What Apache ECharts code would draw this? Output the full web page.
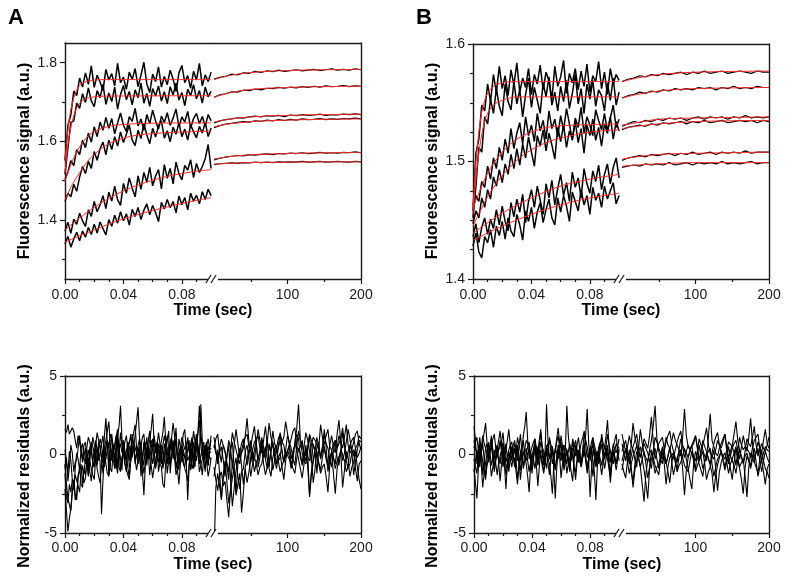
<!DOCTYPE html>
<html><head><meta charset="utf-8">
<script src="https://cdn.jsdelivr.net/npm/echarts@6/dist/echarts.min.js"></script>
<style>html,body{margin:0;padding:0;background:#fff}#c{width:800px;height:584px}</style>
</head><body><div id="c"></div>
<script>
// ---- time bases ----
const tFast = [0,0.002,0.004,0.006,0.008,0.01,0.012,0.014,0.016,0.018,0.02,0.022,0.024,0.026,0.028,0.03,0.032,0.034,0.036,0.038,0.04,0.042,0.044,0.046,0.048,0.05,0.052,0.054,0.056,0.058,0.06,0.062,0.064,0.066,0.068,0.07,0.072,0.074,0.076,0.078,0.08,0.082,0.084,0.086,0.088,0.09,0.092,0.094,0.096,0.098,0.1];
const tSlow = [0,8,16,24,32,40,48,56,64,72,80,88,96,104,112,120,128,136,144,152,160,168,176,184,192,200];
const tResFast = [0,0.001,0.002,0.003,0.004,0.005,0.006,0.007,0.008,0.009,0.01,0.011,0.012,0.013,0.014,0.015,0.016,0.017,0.018,0.019,0.02,0.021,0.022,0.023,0.024,0.025,0.026,0.027,0.028,0.029,0.03,0.031,0.032,0.033,0.034,0.035,0.036,0.037,0.038,0.039,0.04,0.041,0.042,0.043,0.044,0.045,0.046,0.047,0.048,0.049,0.05,0.051,0.052,0.053,0.054,0.055,0.056,0.057,0.058,0.059,0.06,0.061,0.062,0.063,0.064,0.065,0.066,0.067,0.068,0.069,0.07,0.071,0.072,0.073,0.074,0.075,0.076,0.077,0.078,0.079,0.08,0.081,0.082,0.083,0.084,0.085,0.086,0.087,0.088,0.089,0.09,0.091,0.092,0.093,0.094,0.095,0.096,0.097,0.098,0.099,0.1];
const tResSlow = [0,2.5,5,7.5,10,12.5,15,17.5,20,22.5,25,27.5,30,32.5,35,37.5,40,42.5,45,47.5,50,52.5,55,57.5,60,62.5,65,67.5,70,72.5,75,77.5,80,82.5,85,87.5,90,92.5,95,97.5,100,102.5,105,107.5,110,112.5,115,117.5,120,122.5,125,127.5,130,132.5,135,137.5,140,142.5,145,147.5,150,152.5,155,157.5,160,162.5,165,167.5,170,172.5,175,177.5,180,182.5,185,187.5,190,192.5,195,197.5,200];

// ---- Panel A, fast traces ----
const A1f = [1.552,1.641,1.667,1.728,1.716,1.761,1.738,1.774,1.745,1.792,1.737,1.768,1.751,1.729,1.783,1.756,1.772,1.741,1.798,1.749,1.763,1.732,1.776,1.757,1.785,1.739,1.768,1.801,1.746,1.724,1.771,1.752,1.789,1.738,1.765,1.744,1.781,1.758,1.727,1.774,1.793,1.749,1.767,1.735,1.778,1.756,1.798,1.741,1.769,1.752,1.776];
const A2f = [1.517,1.583,1.648,1.652,1.697,1.684,1.721,1.699,1.736,1.703,1.688,1.729,1.711,1.745,1.694,1.723,1.701,1.738,1.682,1.719,1.742,1.706,1.727,1.693,1.731,1.711,1.748,1.697,1.722,1.689,1.734,1.715,1.741,1.702,1.726,1.696,1.739,1.718,1.748,1.705,1.724,1.691,1.733,1.716,1.744,1.708,1.729,1.697,1.738,1.713,1.727];
const A3f = [1.503,1.522,1.551,1.538,1.579,1.566,1.603,1.584,1.621,1.598,1.637,1.612,1.649,1.628,1.661,1.633,1.658,1.619,1.647,1.672,1.641,1.625,1.663,1.651,1.684,1.639,1.657,1.628,1.668,1.645,1.679,1.652,1.631,1.664,1.648,1.673,1.641,1.659,1.682,1.637,1.662,1.649,1.676,1.634,1.658,1.671,1.645,1.663,1.639,1.668,1.652];
const A4f = [1.447,1.468,1.459,1.491,1.473,1.509,1.536,1.518,1.549,1.531,1.574,1.552,1.581,1.598,1.566,1.603,1.579,1.612,1.588,1.624,1.597,1.618,1.641,1.603,1.589,1.628,1.607,1.645,1.616,1.594,1.633,1.611,1.639,1.652,1.608,1.627,1.599,1.636,1.618,1.647,1.612,1.631,1.603,1.642,1.624,1.609,1.638,1.621,1.648,1.612,1.634];
const A5f = [1.372,1.394,1.366,1.402,1.389,1.417,1.398,1.384,1.426,1.409,1.447,1.421,1.438,1.462,1.429,1.471,1.448,1.486,1.452,1.437,1.493,1.468,1.507,1.481,1.459,1.512,1.478,1.521,1.496,1.534,1.487,1.512,1.528,1.479,1.541,1.506,1.531,1.492,1.547,1.518,1.502,1.539,1.527,1.553,1.508,1.544,1.521,1.536,1.556,1.592,1.531];
const A6f = [1.339,1.358,1.331,1.352,1.369,1.347,1.372,1.356,1.381,1.363,1.389,1.367,1.395,1.378,1.362,1.401,1.384,1.412,1.392,1.421,1.398,1.416,1.387,1.427,1.409,1.432,1.401,1.425,1.441,1.413,1.437,1.419,1.396,1.445,1.428,1.452,1.431,1.447,1.418,1.461,1.439,1.457,1.426,1.468,1.448,1.463,1.441,1.472,1.452,1.478,1.462];
// ---- Panel A, slow traces ----
const A1s = [1.758,1.763,1.765,1.771,1.769,1.774,1.773,1.778,1.775,1.779,1.777,1.781,1.778,1.780,1.782,1.779,1.781,1.783,1.780,1.782,1.784,1.781,1.783,1.781,1.784,1.782];
const A2s = [1.712,1.718,1.721,1.726,1.725,1.730,1.729,1.733,1.731,1.735,1.734,1.737,1.735,1.738,1.736,1.739,1.737,1.740,1.738,1.741,1.739,1.740,1.742,1.739,1.741,1.740];
const A3s = [1.647,1.652,1.655,1.657,1.660,1.659,1.662,1.664,1.662,1.665,1.664,1.666,1.663,1.667,1.665,1.668,1.666,1.667,1.669,1.666,1.668,1.667,1.669,1.668,1.670,1.668];
const A4s = [1.635,1.640,1.644,1.646,1.648,1.650,1.649,1.652,1.651,1.654,1.652,1.655,1.653,1.656,1.654,1.657,1.655,1.656,1.658,1.655,1.657,1.656,1.658,1.657,1.659,1.657];
const A5s = [1.553,1.557,1.560,1.562,1.564,1.563,1.566,1.565,1.567,1.568,1.566,1.569,1.568,1.570,1.569,1.571,1.569,1.570,1.572,1.570,1.571,1.570,1.572,1.571,1.573,1.571];
const A6s = [1.541,1.543,1.544,1.545,1.544,1.546,1.545,1.547,1.546,1.547,1.546,1.548,1.547,1.548,1.547,1.549,1.547,1.548,1.549,1.547,1.548,1.549,1.548,1.547,1.549,1.548];
// ---- Panel A fits ----
const fitA1f = [[0,1.55],[0.002,1.63],[0.004,1.68],[0.006,1.71],[0.008,1.73],[0.01,1.742],[0.014,1.751],[0.02,1.756],[0.03,1.757],[0.1,1.757]];
const fitA2f = [[0,1.52],[0.002,1.59],[0.004,1.635],[0.006,1.665],[0.008,1.685],[0.01,1.697],[0.014,1.708],[0.02,1.713],[0.03,1.715],[0.1,1.716]];
const fitA3f = [[0,1.50],[0.004,1.54],[0.008,1.573],[0.012,1.597],[0.016,1.614],[0.02,1.625],[0.03,1.638],[0.04,1.643],[0.06,1.646],[0.1,1.647]];
const fitA4f = [[0,1.451],[0.005,1.49],[0.01,1.52],[0.015,1.547],[0.02,1.567],[0.03,1.594],[0.04,1.608],[0.05,1.616],[0.07,1.622],[0.1,1.626]];
const fitA5f = [[0,1.375],[0.01,1.405],[0.02,1.432],[0.03,1.455],[0.04,1.474],[0.05,1.489],[0.06,1.501],[0.07,1.511],[0.08,1.518],[0.09,1.524],[0.1,1.528]];
const fitA6f = [[0,1.344],[0.02,1.375],[0.04,1.403],[0.06,1.424],[0.08,1.442],[0.1,1.457]];
const fitA1s = [[0,1.757],[20,1.767],[50,1.775],[100,1.780],[150,1.782],[200,1.783]];
const fitA2s = [[0,1.712],[20,1.723],[50,1.732],[100,1.737],[150,1.739],[200,1.740]];
const fitA3s = [[0,1.649],[20,1.656],[50,1.662],[100,1.666],[150,1.668],[200,1.669]];
const fitA4s = [[0,1.637],[20,1.644],[50,1.650],[100,1.654],[150,1.656],[200,1.657]];
const fitA5s = [[0,1.555],[20,1.561],[50,1.566],[100,1.569],[150,1.571],[200,1.572]];
const fitA6s = [[0,1.542],[20,1.544],[50,1.546],[100,1.547],[150,1.548],[200,1.548]];

// ---- Panel B, fast traces ----
const B1f = [1.458,1.507,1.519,1.548,1.543,1.566,1.551,1.574,1.559,1.581,1.562,1.573,1.556,1.578,1.565,1.584,1.559,1.571,1.563,1.579,1.557,1.574,1.566,1.582,1.561,1.576,1.569,1.553,1.581,1.564,1.572,1.586,1.558,1.575,1.567,1.579,1.561,1.577,1.564,1.583,1.559,1.573,1.568,1.585,1.562,1.576,1.557,1.579,1.566,1.574,1.569];
const B2f = [1.452,1.479,1.512,1.508,1.538,1.532,1.553,1.541,1.562,1.547,1.539,1.566,1.551,1.544,1.568,1.549,1.561,1.538,1.557,1.571,1.546,1.563,1.552,1.541,1.567,1.555,1.572,1.548,1.559,1.543,1.564,1.551,1.569,1.545,1.558,1.574,1.549,1.562,1.541,1.566,1.553,1.569,1.547,1.561,1.556,1.543,1.567,1.552,1.571,1.548,1.559];
const B3f = [1.463,1.471,1.466,1.483,1.478,1.496,1.485,1.503,1.494,1.512,1.501,1.519,1.507,1.528,1.511,1.524,1.533,1.515,1.538,1.522,1.531,1.517,1.541,1.526,1.535,1.519,1.543,1.528,1.536,1.521,1.539,1.527,1.545,1.532,1.518,1.537,1.529,1.546,1.524,1.538,1.531,1.522,1.544,1.535,1.527,1.541,1.526,1.537,1.548,1.529,1.536];
const B4f = [1.447,1.458,1.452,1.469,1.461,1.476,1.468,1.487,1.479,1.493,1.482,1.498,1.489,1.506,1.494,1.511,1.497,1.515,1.503,1.521,1.508,1.496,1.522,1.513,1.527,1.509,1.524,1.514,1.502,1.529,1.517,1.531,1.512,1.526,1.519,1.534,1.516,1.528,1.507,1.531,1.522,1.536,1.518,1.529,1.513,1.532,1.524,1.538,1.519,1.534,1.526];
const B5f = [1.436,1.447,1.431,1.444,1.452,1.438,1.451,1.443,1.459,1.446,1.462,1.449,1.441,1.465,1.453,1.468,1.457,1.472,1.448,1.466,1.476,1.461,1.479,1.467,1.455,1.481,1.469,1.484,1.463,1.477,1.489,1.471,1.482,1.466,1.491,1.478,1.486,1.469,1.494,1.481,1.473,1.492,1.483,1.497,1.476,1.489,1.498,1.481,1.495,1.503,1.486];
const B6f = [1.428,1.439,1.423,1.418,1.436,1.431,1.442,1.427,1.445,1.437,1.449,1.434,1.452,1.441,1.436,1.455,1.446,1.433,1.458,1.449,1.461,1.443,1.457,1.465,1.448,1.459,1.468,1.452,1.446,1.469,1.457,1.471,1.462,1.449,1.474,1.466,1.458,1.476,1.463,1.471,1.455,1.478,1.467,1.473,1.461,1.479,1.468,1.475,1.482,1.464,1.471];
// ---- Panel B, slow traces ----
const B1s = [1.568,1.570,1.571,1.573,1.572,1.574,1.573,1.575,1.574,1.575,1.576,1.574,1.576,1.575,1.577,1.575,1.576,1.577,1.575,1.576,1.577,1.576,1.575,1.577,1.576,1.576];
const B2s = [1.554,1.556,1.557,1.559,1.558,1.560,1.559,1.561,1.560,1.562,1.561,1.562,1.561,1.563,1.562,1.563,1.561,1.563,1.562,1.564,1.562,1.563,1.562,1.564,1.563,1.563];
const B3s = [1.530,1.532,1.534,1.533,1.535,1.534,1.536,1.535,1.537,1.536,1.537,1.535,1.537,1.538,1.536,1.538,1.537,1.538,1.536,1.538,1.537,1.539,1.537,1.538,1.537,1.538];
const B4s = [1.527,1.529,1.530,1.531,1.530,1.532,1.531,1.533,1.532,1.533,1.534,1.532,1.534,1.533,1.535,1.533,1.534,1.535,1.533,1.534,1.535,1.534,1.535,1.533,1.535,1.534];
const B5s = [1.501,1.503,1.504,1.505,1.504,1.506,1.505,1.506,1.507,1.505,1.507,1.506,1.508,1.506,1.507,1.508,1.506,1.508,1.507,1.508,1.507,1.509,1.507,1.508,1.508,1.508];
const B6s = [1.495,1.496,1.497,1.496,1.498,1.497,1.498,1.497,1.499,1.497,1.498,1.499,1.497,1.499,1.498,1.499,1.498,1.500,1.498,1.499,1.498,1.499,1.500,1.498,1.499,1.499];
// ---- Panel B fits ----
const fitB1f = [[0,1.46],[0.002,1.50],[0.004,1.525],[0.006,1.542],[0.008,1.552],[0.01,1.558],[0.014,1.564],[0.02,1.567],[0.03,1.568],[0.1,1.568]];
const fitB2f = [[0,1.455],[0.002,1.485],[0.004,1.507],[0.006,1.523],[0.008,1.534],[0.01,1.541],[0.014,1.548],[0.02,1.552],[0.03,1.555],[0.1,1.555]];
const fitB3f = [[0,1.46],[0.01,1.49],[0.02,1.508],[0.03,1.519],[0.04,1.525],[0.05,1.529],[0.07,1.531],[0.1,1.532]];
const fitB4f = [[0,1.445],[0.01,1.47],[0.02,1.488],[0.03,1.501],[0.04,1.51],[0.05,1.516],[0.06,1.52],[0.08,1.525],[0.1,1.527]];
const fitB5f = [[0,1.439],[0.02,1.456],[0.04,1.469],[0.06,1.479],[0.08,1.485],[0.1,1.489]];
const fitB6f = [[0,1.433],[0.02,1.445],[0.04,1.455],[0.06,1.463],[0.08,1.469],[0.1,1.473]];
const fitB1s = [[0,1.568],[20,1.571],[50,1.574],[100,1.576],[200,1.577]];
const fitB2s = [[0,1.554],[20,1.557],[50,1.560],[100,1.562],[200,1.563]];
const fitB3s = [[0,1.531],[20,1.533],[50,1.536],[100,1.537],[200,1.538]];
const fitB4s = [[0,1.528],[20,1.530],[50,1.532],[100,1.534],[200,1.535]];
const fitB5s = [[0,1.502],[20,1.504],[50,1.506],[100,1.507],[200,1.508]];
const fitB6s = [[0,1.496],[20,1.497],[50,1.498],[100,1.499],[200,1.499]];

// ---- Residuals A (fast: tResFast, slow: tResSlow) ----
const RA1f = [-1.2,-2.7,-3.1,-1.9,-2.4,-1.6,-1.8,-2.9,-2.6,-1.3,-1.1,-0.6,-1.9,-1.0,-0.4,0.3,-1.3,-0.2,0.6,-0.5,-0.8,0.9,0.3,-0.4,-0.5,0.7,1.2,-0.6,-0.3,0.4,0.8,-0.9,-1.1,0.2,0.4,1.1,1.6,0.3,-0.2,-1.0,0.9,0.2,-0.7,0.8,0.5,-0.3,1.3,0.6,-0.6,0.1,0.2,1.0,-1.4,-0.5,0.7,0.3,1.1,-0.2,-0.3,0.9,0.6,-0.4,-0.9,0.5,1.4,0.7,0.1,-0.8,-0.5,0.6,0.9,1.5,-1.2,-0.1,0.4,0.8,1.7,-0.3,-0.4,0.5,0.3,-0.6,-0.8,0.4,1.1,0.2,0.5,-0.9,-0.6,0.7,1.3,0.4,-0.2,3.2,0.8,-0.4,-1.1,0.6,0.6,-0.2,-0.3];
const RA2f = [1.6,1.4,1.9,1.3,1.2,1.7,1.5,0.9,0.4,1.2,1.1,0.3,-0.3,0.6,0.8,-0.4,-0.9,0.5,0.2,1.1,1.0,0.2,-0.6,0.8,0.5,-0.3,-1.2,0.4,0.9,1.5,2.1,0.7,-0.4,0.3,0.6,1.2,-0.8,0.1,1.4,0.6,0.1,-0.6,-1.1,0.4,0.7,1.3,-0.2,0.5,1.2,2.1,3.0,1.1,0.3,-0.2,-0.7,0.6,0.9,0.2,-1.3,-0.4,0.4,1.2,1.1,-0.1,-0.5,0.3,0.2,1.4,2.4,0.8,-0.6,0.2,0.8,1.1,-0.3,0.4,1.0,-0.5,-1.0,0.3,0.5,1.3,1.6,0.2,-0.4,-0.1,0.3,0.9,-0.9,0.1,0.7,1.4,2.2,0.6,-0.1,0.3,0.6,-0.2,-0.7,0.4,0.9];
const RA3f = [-2.2,-3.6,-4.9,-4.1,-3.4,-2.3,-1.6,-2.5,-2.9,-1.4,-0.8,-1.9,-2.1,-0.9,-1.3,-0.5,-0.2,-1.1,-1.7,-0.6,0.4,-0.3,-0.9,-1.4,-1.8,-0.7,0.3,0.1,-0.6,-1.2,-1.4,-0.5,0.2,-0.3,-0.9,0.4,0.7,-0.8,-1.1,-0.2,0.1,-0.6,-0.5,-1.3,-1.6,-0.2,0.4,0.6,-0.3,-1.0,-0.9,0.2,0.8,-0.4,-1.2,-0.6,-0.1,0.5,0.6,-0.7,-1.5,-0.8,-0.4,0.1,0.3,-0.6,-0.8,-1.9,-2.1,-0.4,0.2,-0.3,-0.6,0.5,0.9,-0.2,-1.3,-0.9,-0.2,0.3,0.5,-0.4,-0.9,-1.2,-1.7,-0.6,0.1,0.4,-0.4,-0.8,0.6,0.2,-1.1,-0.7,-0.3,0.2,0.4,-0.5,-1.4,-0.9,-0.2];
const RA4f = [-0.6,-1.9,-2.8,-3.2,-3.6,-2.4,-2.1,-1.3,-1.4,-2.0,-2.4,-1.1,-0.7,-1.8,-1.5,-0.3,0.3,-0.4,-0.9,-1.3,-1.6,-0.2,0.5,-0.1,-0.4,-3.8,-1.6,-0.2,0.4,0.9,-0.7,0.2,1.3,0.4,-0.1,-0.6,-1.2,0.3,0.7,0.1,0.7,-0.3,0.2,0.8,-0.8,-0.5,1.1,0.6,-0.4,0.1,0.5,-0.2,-1.0,-0.4,0.8,0.3,-0.3,0.9,1.5,0.2,-0.6,-0.1,0.3,0.8,-1.1,-0.5,0.6,0.2,-0.2,0.7,1.2,0.3,-0.7,-0.2,0.4,0.9,-0.9,-0.4,1.0,0.5,-0.5,0.1,0.2,-0.4,-2.9,-0.8,0.7,1.1,-0.3,0.2,1.1,0.6,-0.6,-0.1,0.3,0.8,-0.9,-0.3,0.5,0.2,0.1];
const RA5f = [0.3,-0.5,-1.2,0.2,-0.4,-1.6,-2.2,-0.9,0.1,-0.3,-1.0,0.4,0.7,-0.2,-0.6,0.5,1.1,0.8,0.2,-0.5,-0.8,0.6,1.4,0.9,0.5,-0.2,-0.5,1.2,2.3,0.7,0.4,1.3,1.0,-0.1,-0.3,0.6,0.6,1.8,3.1,1.0,0.2,0.8,1.2,0.3,-0.4,0.5,0.8,1.4,1.9,0.4,-0.2,0.3,0.5,1.1,1.3,0.2,-0.7,0.4,0.9,1.6,2.6,0.8,0.1,0.5,0.7,-0.2,-0.6,0.6,1.2,0.7,0.4,-0.1,-0.2,1.1,2.0,1.2,0.6,-0.1,-0.5,0.4,1.1,0.7,0.3,0.6,0.9,0.2,-0.4,0.5,1.5,0.8,0.2,1.4,3.1,1.3,0.5,-0.3,-0.1,0.6,1.0,0.3,0.4];
const RA6f = [-0.9,-0.2,-1.7,-0.8,0.6,0.1,-1.1,-0.5,-0.3,0.4,1.2,0.3,-0.5,-0.1,0.4,-0.6,-1.4,-0.3,0.8,0.5,0.1,-0.4,-0.7,0.3,1.0,0.6,-0.2,-0.8,0.5,0.9,-1.3,-0.5,0.3,0.7,-0.4,-0.9,1.1,0.2,-0.9,-0.3,0.6,0.2,-0.1,-0.8,-1.5,-0.3,0.4,0.8,0.9,0.1,-0.6,-0.2,0.2,-1.1,-2.6,-0.7,0.5,0.1,-0.3,0.4,1.0,0.3,-0.8,-0.4,0.4,0.6,-0.2,-0.9,0.7,0.2,-1.2,-0.4,0.3,0.9,0.8,-0.3,-0.5,-1.0,-1.9,-0.6,0.6,0.3,-0.2,-0.6,0.4,0.9,-1.0,-0.4,0.8,0.1,-0.4,0.5,0.2,-0.6,-1.3,-0.2,0.5,0.8,-0.7,0.3,1.2];
const RA1s = [-6.5,-2.1,-1.2,-2.0,-2.8,-1.3,-0.4,-1.7,-3.1,-2.3,-1.5,-0.8,-0.2,-1.4,-2.2,-1.1,-0.9,0.2,0.6,-0.3,-1.4,-0.6,0.3,0.9,-0.8,-0.2,1.1,0.4,-0.3,-0.9,0.7,0.1,-1.0,-0.4,0.4,1.0,1.3,0.2,-0.5,-0.1,0.2,0.6,-0.9,-0.3,0.8,1.6,3.2,0.9,0.1,-0.4,-0.6,0.3,1.2,-0.2,-1.8,-0.9,0.5,0.8,-0.3,0.2,1.6,0.5,-1.1,-0.4,0.2,0.7,0.9,-0.2,-0.7,0.3,1.4,0.6,-0.4,-0.9,0.6,0.2,-1.3,-0.5,0.3,0.9,0.8];
const RA2s = [0.4,1.0,1.3,0.2,-0.5,0.6,0.2,-0.7,-1.6,0.3,0.8,-0.9,-2.4,-0.6,0.1,0.7,1.0,0.2,-0.7,0.1,0.5,1.2,1.8,0.6,-0.4,0.3,0.9,-0.2,0.2,1.0,-0.8,0.4,1.5,0.7,0.3,-0.4,-0.2,0.8,1.1,2.1,2.1,0.6,-0.3,0.2,0.6,1.3,1.0,-0.2,-0.6,0.5,1.4,0.9,0.2,-0.5,0.7,0.2,-1.2,0.4,1.9,1.1,0.4,-0.2,-0.5,0.6,1.2,0.5,0.1,1.3,2.2,0.7,-0.4,0.1,0.8,1.6,1.5,0.3,-0.1,0.4,0.6,1.2,1.0];
const RA3s = [-0.8,-1.6,-2.3,-1.4,-1.1,-2.0,-1.7,-2.9,-4.0,-2.2,-0.5,-1.3,-2.6,-1.9,-1.2,-3.7,-2.4,-0.9,-1.8,-1.1,-0.4,0.2,0.3,-0.6,-1.3,-0.8,-0.6,0.1,0.5,-0.3,-0.9,-1.4,-0.2,0.3,0.6,-0.4,-1.1,-0.7,-0.4,0.2,0.2,-0.3,-0.8,-0.1,0.7,0.3,-0.3,-0.9,-1.5,-0.6,0.4,0.1,-2.7,-1.2,-0.5,0.2,0.3,-0.6,-1.2,-0.8,-0.6,-1.4,-2.4,-0.7,0.1,-0.2,-0.9,-0.4,-0.3,0.1,-2.1,-1.0,0.2,-0.3,-1.4,-0.8,-0.5,0.2,-0.8,-1.6,-2.2];
const RA4s = [1.1,0.3,-0.6,0.1,0.5,-0.3,-1.4,-0.2,0.9,0.4,-0.8,0.6,1.6,0.7,-0.2,0.1,0.4,1.2,2.3,0.8,-0.5,0.3,0.8,1.0,1.2,0.4,0.1,0.9,1.8,0.6,0.4,0.2,0.7,-0.1,-0.6,0.5,1.4,0.8,0.6,-0.2,-0.1,0.6,1.0,1.5,1.7,0.6,0.2,0.5,0.9,-0.1,-0.4,0.5,1.3,0.9,0.5,0.3,1.1,0.4,-0.2,0.3,0.7,1.2,1.6,0.5,0.3,-0.2,-0.6,0.4,1.2,0.8,0.4,1.1,1.9,0.6,0.1,0.3,0.8,1.3,1.5,0.7,0.3];
const RA5s = [-1.4,-0.6,0.3,-1.1,-2.9,-1.6,-0.8,-0.1,0.6,-1.5,-3.3,-2.1,-1.0,-0.3,0.4,-0.7,-1.9,-0.8,-0.3,0.3,0.9,-0.2,-1.1,-0.5,-0.2,0.1,0.5,-0.6,-1.3,-0.8,-0.6,0.2,0.8,-0.3,-0.9,-0.2,0.1,-0.8,-1.6,-0.4,0.3,-0.1,-0.5,-0.9,-1.2,-0.3,0.4,0.1,-0.7,-0.2,0.6,-0.8,-2.6,-1.1,-0.3,0.4,0.2,-0.5,-1.0,-0.2,0.5,-0.3,-0.8,-0.2,0.1,-1.2,-2.5,-0.9,-0.2,0.3,0.4,-0.4,-1.1,-0.8,-0.6,0.1,0.3,-0.9,-1.7,-0.6,-0.4];
const RA6s = [0.6,0.1,-0.3,0.4,1.0,0.6,0.2,-0.5,-1.1,0.3,1.4,0.8,0.3,-0.2,-0.6,0.2,0.8,1.1,1.3,0.5,0.2,-0.1,-0.4,0.7,1.6,0.9,0.5,0.1,-0.2,0.8,2.0,1.1,0.7,0.3,0.1,0.4,0.9,0.2,-0.5,0.3,1.2,0.8,0.4,-0.3,-0.7,0.5,1.5,0.9,0.6,0.1,0.2,-0.2,-0.4,0.6,1.1,0.9,0.8,0.3,-0.1,0.5,1.3,0.7,0.4,-0.3,-0.8,0.2,0.9,0.4,0.3,1.0,1.7,0.6,-0.3,0.2,0.6,0.9,1.1,0.4,-0.2,0.1,0.5];
// ---- Residuals B ----
const RB1f = [1.8,0.9,-0.6,0.3,1.1,0.2,-1.3,-0.4,0.4,0.7,-0.2,0.5,1.2,0.3,-0.8,-0.2,0.3,0.9,1.5,0.6,-0.5,0.1,0.7,-0.3,-1.1,-0.2,0.2,0.6,0.9,0.1,-0.4,0.5,1.3,0.2,-0.9,-0.4,0.1,0.5,0.8,-0.1,-0.6,0.3,1.0,0.4,-0.3,0.6,1.4,0.3,-0.7,0.2,3.2,0.9,-0.2,0.1,0.5,-0.3,-1.0,-0.2,0.6,0.4,1.2,0.5,-0.5,-0.1,0.3,-0.4,-0.9,0.2,0.8,0.3,-0.1,0.6,1.1,0.2,-0.6,-0.1,0.4,1.3,2.9,0.8,-0.4,0.2,0.7,-0.2,-0.8,-0.3,0.2,0.7,1.0,0.3,-0.3,0.2,0.6,-0.5,-1.2,-0.1,0.5,0.9,1.3,0.2,-0.4];
const RB2f = [-0.9,-1.8,-2.8,-0.9,0.5,0.1,-0.4,-1.1,-1.6,-0.2,0.8,0.1,-0.7,-0.2,0.3,-0.6,-1.3,-0.5,-0.1,0.3,0.6,-0.7,-2.2,-0.6,0.2,-0.3,-0.8,-0.2,0.4,-0.4,-1.5,-0.8,-0.3,0.4,0.9,-0.1,-0.6,-1.4,-2.4,-0.7,0.1,-0.3,-0.9,-0.2,0.5,0.1,-0.2,-0.7,-1.1,-0.3,0.3,-0.2,-0.6,-1.4,-2.5,-0.6,0.4,0.1,-0.3,0.2,0.8,-0.1,-1.0,-0.4,0.2,-0.2,-0.5,-1.1,-1.7,-0.3,0.6,0.2,-0.2,-0.5,-0.8,0.1,0.3,-0.4,-1.2,-0.6,0.5,0.1,-0.4,-1.2,-2.9,-0.8,0.1,-0.3,-0.7,-0.1,0.6,0.2,-0.3,-0.8,-1.4,-0.5,0.2,-0.1,-0.6,-0.2,0.4];
const RB3f = [0.4,0.8,1.1,0.3,-0.3,0.4,0.8,1.4,2.0,0.7,-0.5,0.1,0.6,1.0,1.3,0.4,-0.2,0.3,0.9,0.2,-0.8,-0.2,0.3,0.9,1.6,0.6,-0.4,0.2,0.7,0.3,0.1,-0.5,-1.0,0.2,1.2,1.8,2.7,0.9,-0.3,0.1,0.5,0.8,1.0,0.2,-0.6,0.1,0.8,0.5,0.2,-0.4,-0.9,0.2,1.1,0.6,0.4,-0.2,0.3,1.0,1.7,0.8,0.6,-0.1,-0.7,0.4,3.1,1.2,0.3,-0.4,-0.4,0.5,0.9,0.3,0.1,-0.3,-0.8,0.4,1.4,0.9,0.5,-0.2,-0.3,0.4,1.0,0.6,0.2,-0.3,-0.6,0.5,1.3,0.7,0.4,1.2,2.2,0.6,-0.5,0.1,0.7,0.3,0.1,0.5,1.0];
const RB4f = [-0.3,-0.8,-1.2,0.1,0.7,-0.6,-2.1,-1.2,-0.5,0.1,0.4,-0.4,-1.4,-0.8,-0.2,0.3,0.6,-0.5,-1.7,-0.6,0.3,-0.2,-0.6,-0.9,-1.0,0.1,0.5,-0.1,-0.3,-1.1,-1.9,-0.6,0.2,-0.3,-0.7,0.1,0.4,-0.4,-1.1,-0.5,-0.1,0.3,0.6,-0.7,-2.0,-0.8,0.3,0.1,-0.5,-0.2,0.1,-0.6,-1.3,-0.2,0.5,-0.9,-2.8,-0.9,0.2,-0.1,-0.4,0.1,0.6,-0.3,-1.2,-0.6,-0.2,0.2,0.4,-0.7,-1.6,-0.5,0.1,-0.2,-0.6,0.3,0.7,-0.2,-1.0,-0.4,-2.7,-0.9,0.3,-0.1,-0.5,0.2,0.2,-0.6,-1.3,-0.5,-0.4,0.1,0.5,-0.8,-1.8,-0.6,0.1,-0.2,-0.6,0.1,0.3];
const RB5f = [0.9,0.4,0.1,-0.4,-0.8,0.3,1.2,0.7,0.4,0.1,-0.3,0.5,1.0,-0.2,-1.1,-0.2,0.6,0.3,0.2,0.8,1.4,0.3,-0.5,-0.1,0.3,0.6,0.8,0.1,-0.7,0.2,1.1,0.6,0.2,-0.3,-0.4,0.4,0.9,0.7,0.5,-0.2,-1.2,-0.2,0.7,0.4,0.1,0.9,1.6,0.5,-0.3,0.1,0.4,0.7,0.9,0.2,-0.6,-0.1,0.2,0.8,1.2,0.4,-0.2,0.3,0.6,0.5,0.3,-0.4,-1.1,0.0,1.0,0.6,0.4,-0.2,-0.5,0.3,0.8,1.1,1.5,0.6,-0.2,0.1,0.3,0.8,1.1,0.2,-0.7,-0.1,0.5,0.8,0.9,0.3,-0.1,0.5,1.3,0.7,0.2,-0.3,-0.6,0.2,0.7,0.5,0.4];
const RB6f = [-1.1,-0.4,0.3,-0.2,-0.5,0.1,0.7,-0.3,-1.4,-0.7,-0.2,0.2,0.5,-0.2,-0.9,-0.4,0.1,-0.3,-0.6,0.2,0.8,-0.2,-1.3,-0.8,-0.3,0.1,0.4,-0.1,-0.8,-0.3,0.6,-0.4,-1.6,-0.6,0.2,-0.1,-0.4,0.1,0.3,-0.3,-1.0,-0.3,0.5,-0.1,-0.7,-0.2,0.1,-0.4,-1.2,-0.5,0.6,0.2,-0.3,-0.1,0.2,-0.3,-0.9,-0.2,0.4,-0.1,-1.5,-0.6,0.1,-0.2,-0.6,0.2,0.7,0.1,-0.2,-0.8,-1.1,-0.3,0.3,-0.1,-0.5,-0.2,0.1,-0.3,-0.8,-0.2,0.4,-0.5,-1.4,-0.4,0.2,-0.1,-0.3,0.3,0.6,-0.2,-0.9,-0.3,0.1,-0.2,-0.5,0.1,0.3,-0.4,-1.0,-0.3,0.2];
const RB1s = [0.7,0.1,-0.4,0.5,1.2,0.6,0.3,-0.3,-0.8,0.4,1.6,0.7,0.1,-0.2,-0.5,0.3,0.9,1.8,3.1,1.0,0.2,-0.3,-0.6,0.4,1.1,0.6,0.4,-0.1,-0.3,0.3,0.8,1.2,1.5,0.5,-0.2,0.2,0.6,0.3,0.1,-0.4,-0.9,0.2,1.0,0.6,0.3,-0.1,-0.4,1.1,2.6,0.9,0.5,0.1,-0.1,0.4,0.7,1.0,1.3,0.2,-0.6,-0.1,0.4,0.7,0.9,0.3,-0.3,0.5,1.2,0.6,0.2,1.1,2.3,0.8,-0.5,0.2,0.8,0.4,0.1,0.9,1.6,0.7,0.4];
const RB2s = [-0.6,-1.1,-1.5,-0.4,0.3,-0.8,-2.1,-1.0,-0.4,0.2,0.5,-0.3,-1.0,-1.8,-2.8,-0.9,0.2,-0.2,-0.7,-1.0,-1.3,-0.3,0.4,-0.1,-0.5,-1.1,-1.8,-0.6,0.1,-0.4,-0.9,-0.2,0.3,-0.9,-2.6,-1.0,-0.2,0.3,0.6,-0.3,-1.1,-0.7,-0.4,-0.1,0.2,-0.6,-1.6,-1.1,-0.8,-0.2,0.3,-0.9,-2.3,-1.1,-0.5,-0.1,0.1,-0.5,-1.2,-0.6,-0.3,0.1,0.5,-0.2,-0.9,-1.6,-2.5,-0.8,-0.1,-0.4,-0.7,-0.1,0.4,-0.5,-1.4,-0.8,-0.3,-1.1,-1.9,-0.9,-0.6];
const RB3s = [1.3,0.7,0.2,-0.2,-0.5,0.6,2.0,1.1,0.6,0.1,-0.2,0.4,1.0,0.7,0.4,1.2,2.4,0.8,-0.3,0.2,0.7,0.9,1.1,0.3,-0.6,-0.1,0.3,0.8,1.4,0.9,0.8,0.3,-0.1,1.1,2.9,1.2,0.5,0.3,0.2,0.7,1.2,0.5,-0.4,0.1,0.6,1.1,1.7,0.6,0.1,-0.1,-0.3,0.3,0.9,0.6,0.4,0.8,1.3,0.5,-0.2,0.2,0.6,1.3,2.1,0.9,0.3,-0.1,-0.5,0.2,1.0,0.7,0.5,1.1,1.8,0.6,-0.1,0.3,0.7,0.4,0.2,0.6,1.1];
const RB4s = [-1.0,-0.3,0.4,0.1,-0.3,-1.1,-1.7,-0.6,0.2,-0.2,-0.8,-1.9,-3.0,-1.2,-0.4,0.1,0.3,-0.4,-1.2,-0.8,-0.6,-0.1,0.5,-0.6,-1.9,-0.8,-0.2,-0.1,0.1,-0.5,-1.1,-0.7,-0.5,-0.1,0.4,-0.3,-0.9,-1.6,-2.2,-0.6,0.2,-0.2,-0.6,-1.0,-1.4,-0.4,0.1,-0.2,-0.3,-1.2,-2.4,-1.3,-0.7,-0.2,0.3,-0.4,-1.0,-0.5,-0.2,-0.9,-1.6,-0.5,0.4,-0.3,-0.8,-0.5,-0.3,-1.4,-2.7,-0.8,0.1,-0.3,-0.5,-0.8,-1.2,-0.3,0.2,-0.4,-0.9,-1.1,-1.5];
const RB5s = [0.2,0.6,0.9,0.1,-0.6,-0.1,0.5,0.9,1.3,0.4,-0.2,0.3,0.7,0.4,0.1,-0.4,-0.9,0.2,1.1,0.8,0.4,0.1,-0.3,0.2,0.8,1.2,1.5,0.7,0.2,-0.2,-0.5,0.3,1.0,0.6,0.3,0.1,-0.2,0.2,0.6,0.9,1.2,0.4,-0.4,0.3,0.9,0.5,0.2,-0.3,-0.6,0.1,0.7,1.1,1.4,0.6,0.1,-0.1,-0.3,0.3,0.8,0.7,0.5,0.1,-0.7,0.2,1.1,0.6,0.3,0.5,0.6,0.2,-0.2,0.4,0.9,1.1,1.3,0.4,-0.4,0.1,0.5,0.3,0.2];
const RB6s = [-0.4,0.1,0.3,-0.5,-1.2,-0.6,-0.1,0.2,0.6,-0.2,-0.8,-0.3,0.2,-0.6,-1.5,-0.8,-0.3,0.1,0.4,-0.3,-0.9,-0.4,0.1,-0.3,-0.6,-0.1,0.5,-0.4,-1.3,-0.7,-0.2,0.1,0.3,-0.2,-0.7,-0.9,-1.1,-0.4,0.2,-0.1,-0.4,0.1,0.6,-0.2,-0.9,-0.5,-0.1,0.2,0.4,-0.6,-1.4,-0.8,-0.3,-0.1,0.2,-0.3,-0.8,-0.2,0.5,-0.1,-0.2,-0.7,-1.2,-0.4,0.3,-0.2,-0.6,-0.1,0.1,-0.4,-0.9,-0.3,-0.3,0.1,0.4,-0.3,-1.1,-0.4,0.2,-0.2,-0.5];

// ---- tick values ----
const yTicksA = {major:[1.4,1.6,1.8], minor:[1.3,1.5,1.7]};
const yTicksB = {major:[1.4,1.5,1.6], minor:[1.425,1.45,1.475,1.525,1.55,1.575]};
const yTicksR = {major:[-5,0,5], minor:[-2.5,2.5]};

// ================= build =================
const FONT = '"Liberation Sans", Arial, Helvetica, sans-serif';
const AX = '#1a1a1a';
const AXW = 1.4;
const option = {animation:false, backgroundColor:'#fff', grid:[], xAxis:[], yAxis:[], series:[], graphic:[]};

function addPanel(c){
  const g = option.grid.length;
  option.grid.push({left:c.left, top:c.top, width:c.wL, height:c.h, containLabel:false, outerBoundsMode:'none'});
  option.grid.push({left:c.left + c.wL, top:c.top, width:c.wR, height:c.h, containLabel:false, outerBoundsMode:'none'});
  const lineOn = {show:true, onZero:false, lineStyle:{color:AX, width:AXW}};
  const lab = {color:'#1a1a1a', fontSize:14, fontFamily:FONT};
  const xi = option.xAxis.length;
  option.xAxis.push({type:'value', gridIndex:g, position:'bottom', min:0, max:0.102, interval:0.04,
    axisLine:lineOn, splitLine:{show:false},
    axisTick:{show:true, inside:false, length:5, lineStyle:{color:AX, width:1.2}},
    minorTick:{show:true, splitNumber:4, length:3, lineStyle:{color:AX, width:1.2}},
    axisLabel:Object.assign({formatter:v=>v.toFixed(2), showMaxLabel:false, margin:c.xm}, lab)});
  option.xAxis.push({type:'value', gridIndex:g, position:'top', min:0, max:0.102,
    axisLine:lineOn, axisTick:{show:false}, axisLabel:{show:false}, splitLine:{show:false}});
  option.xAxis.push({type:'value', gridIndex:g+1, position:'bottom', min:0, max:200, interval:100,
    axisLine:lineOn, splitLine:{show:false},
    axisTick:{show:true, inside:false, length:5, lineStyle:{color:AX, width:1.2}},
    minorTick:{show:true, splitNumber:2, length:3, lineStyle:{color:AX, width:1.2}},
    axisLabel:Object.assign({showMinLabel:false, margin:c.xm}, lab)});
  option.xAxis.push({type:'value', gridIndex:g+1, position:'top', min:0, max:200,
    axisLine:lineOn, axisTick:{show:false}, axisLabel:{show:false}, splitLine:{show:false}});
  const yi = option.yAxis.length;
  option.yAxis.push({type:'value', gridIndex:g, position:'left', min:c.ymin, max:c.ymax,
    axisLine:lineOn, splitLine:{show:false},
    axisTick:{show:true, inside:false, length:5, customValues:c.ticks.major, lineStyle:{color:AX, width:1.2}},
    axisLabel:Object.assign({customValues:c.ticks.major, formatter:c.fmt, margin:8}, lab)});
  option.yAxis.push({type:'value', gridIndex:g+1, position:'right', min:c.ymin, max:c.ymax,
    axisLine:lineOn, axisTick:{show:false}, axisLabel:{show:false}, splitLine:{show:false}});
  option.yAxis.push({type:'value', gridIndex:g, position:'left', min:c.ymin, max:c.ymax,
    axisLine:{show:false, onZero:false}, splitLine:{show:false},
    axisTick:{show:true, inside:false, length:3, customValues:c.ticks.minor, lineStyle:{color:AX, width:1.2}},
    axisLabel:{show:false}});
  // break marks "//" on the bottom axis
  const xb = c.left + c.wL, yb = c.top + c.h;
  option.graphic.push(
    {type:'rect', z:100, shape:{x:xb-6, y:yb-2, width:10, height:9}, style:{fill:'#fff'}},
    {type:'line', z:101, shape:{x1:xb-8, y1:yb+4, x2:xb-3, y2:yb-4}, style:{stroke:AX, lineWidth:1.3}},
    {type:'line', z:101, shape:{x1:xb-3, y1:yb+4, x2:xb+2, y2:yb-4}, style:{stroke:AX, lineWidth:1.3}}
  );
  return {xL:xi, xR:xi+2, yL:yi, yR:yi+1};
}

const zip = (t, y) => y.map((v, i) => [t[i], v]);
function line(x, y, data, color, width, smooth){
  option.series.push({type:'line', xAxisIndex:x, yAxisIndex:y, data:data, symbol:'none', showSymbol:false,
    smooth:smooth || false, silent:true, clip:true, sampling:undefined, lineStyle:{color:color, width:width}});
}
const BLK = '#000', RED = '#ff2a2a', RES = '#000';

const pA = addPanel({left:65, top:43, wL:149, wR:147, h:236, ymin:1.25, ymax:1.85, ticks:yTicksA, fmt:v=>v.toFixed(1), xm:9});
const pB = addPanel({left:473, top:44, wL:149, wR:147, h:235, ymin:1.4, ymax:1.6, ticks:yTicksB, fmt:v=>v.toFixed(1), xm:9});
const pRA = addPanel({left:65, top:376, wL:149, wR:147, h:157, ymin:-5, ymax:5, ticks:yTicksR, fmt:v=>String(v), xm:8});
const pRB = addPanel({left:474, top:376, wL:148, wR:147, h:157, ymin:-5, ymax:5, ticks:yTicksR, fmt:v=>String(v), xm:8});

// Panel A
[A1f,A2f,A3f,A4f,A5f,A6f].forEach(a => line(pA.xL, pA.yL, zip(tFast, a), BLK, 1.5));
[A1s,A2s,A3s,A4s,A5s,A6s].forEach(a => line(pA.xR, pA.yR, zip(tSlow, a), BLK, 1.2));
[fitA1f,fitA2f,fitA3f,fitA4f,fitA5f,fitA6f].forEach(a => line(pA.xL, pA.yL, a, RED, 1, 0.35));
[fitA1s,fitA2s,fitA3s,fitA4s,fitA5s,fitA6s].forEach(a => line(pA.xR, pA.yR, a, RED, 1, 0.35));
// Panel B
[B1f,B2f,B3f,B4f,B5f,B6f].forEach(a => line(pB.xL, pB.yL, zip(tFast, a), BLK, 1.5));
[B1s,B2s,B3s,B4s,B5s,B6s].forEach(a => line(pB.xR, pB.yR, zip(tSlow, a), BLK, 1.2));
[fitB1f,fitB2f,fitB3f,fitB4f,fitB5f,fitB6f].forEach(a => line(pB.xL, pB.yL, a, RED, 1, 0.35));
[fitB1s,fitB2s,fitB3s,fitB4s,fitB5s,fitB6s].forEach(a => line(pB.xR, pB.yR, a, RED, 1, 0.35));
// Residuals
[RA1f,RA2f,RA3f,RA4f,RA5f,RA6f].forEach(a => line(pRA.xL, pRA.yL, zip(tResFast, a), RES, 1.1));
[RA1s,RA2s,RA3s,RA4s,RA5s,RA6s].forEach(a => line(pRA.xR, pRA.yR, zip(tResSlow, a), RES, 1.1));
[RB1f,RB2f,RB3f,RB4f,RB5f,RB6f].forEach(a => line(pRB.xL, pRB.yL, zip(tResFast, a), RES, 1.1));
[RB1s,RB2s,RB3s,RB4s,RB5s,RB6s].forEach(a => line(pRB.xR, pRB.yR, zip(tResSlow, a), RES, 1.1));

// titles and letters
const TF = 'bold 16px ' + FONT;
function txt(text, x, y, rot, font){
  option.graphic.push({type:'text', x:x, y:y, rotation:rot||0, z:110,
    style:{text:text, font:font||TF, fill:'#000', align:'center', verticalAlign:'middle'}});
}
txt('Fluorescence signal (a.u.)', 25, 161, Math.PI/2);
txt('Fluorescence signal (a.u.)', 433, 161, Math.PI/2);
txt('Normalized residuals (a.u.)', 25, 466, Math.PI/2);
txt('Normalized residuals (a.u.)', 433, 466, Math.PI/2);
txt('Time (sec)', 213, 311, 0);
txt('Time (sec)', 621, 311, 0);
txt('Time (sec)', 213, 565, 0);
txt('Time (sec)', 622, 565, 0);
txt('A', 16, 18, 0, 'bold 22px ' + FONT);
txt('B', 424, 18, 0, 'bold 22px ' + FONT);

const chart = echarts.init(document.getElementById('c'), null, {renderer:'canvas'});
chart.setOption(option);
</script>
</body></html>
